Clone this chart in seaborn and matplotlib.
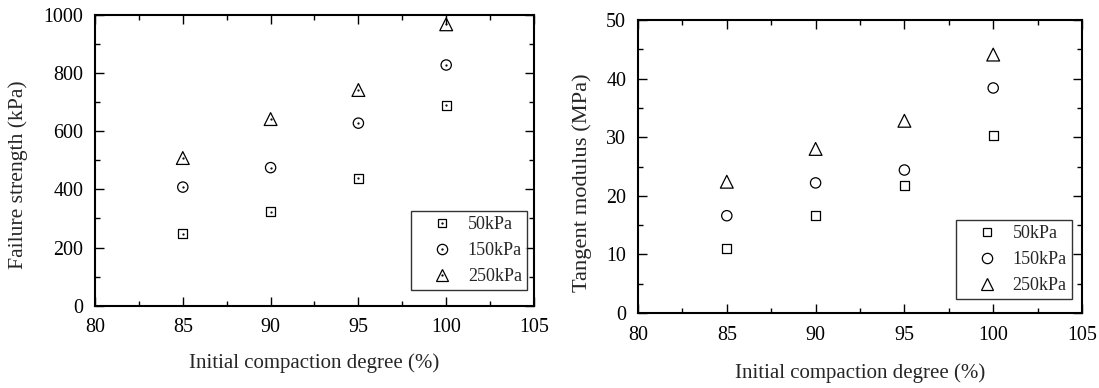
import numpy as np
import pandas as pd
import matplotlib
matplotlib.use("Agg")
import matplotlib.pyplot as plt
import seaborn as sns
from matplotlib.ticker import MultipleLocator
from matplotlib.lines import Line2D
from matplotlib.legend_handler import HandlerTuple

compaction = [85, 90, 95, 100]
pressures = ["50kPa", "150kPa", "250kPa"]
strength_50 = [248, 323, 438, 690]
strength_150 = [408, 475, 628, 828]
strength_250 = [508, 642, 742, 968]
modulus_50 = [11.0, 16.7, 21.7, 30.3]
modulus_150 = [16.6, 22.2, 24.4, 38.4]
modulus_250 = [22.4, 28.0, 32.8, 44.1]

def frame(vals):
    rows = []
    for p, v in zip(pressures, vals):
        for x, y in zip(compaction, v):
            rows.append({"x": x, "y": y, "p": p})
    return pd.DataFrame(rows)

df_s = frame([strength_50, strength_150, strength_250])
df_m = frame([modulus_50, modulus_150, modulus_250])

sns.set_style("ticks")
plt.rcParams['font.family'] = ['Liberation Serif', 'DejaVu Serif']

fig = plt.figure(figsize=(10.99, 3.88), dpi=100)
W, H = 1099, 388
def box(l, t, r, b):
    return [l / W, (H - b) / H, (r - l) / W, (b - t) / H]
ax1 = fig.add_axes(box(95, 15, 534, 305.7))
ax2 = fig.add_axes(box(638, 20, 1082, 313))

markers = {"50kPa": "s", "150kPa": "o", "250kPa": "^"}
sizes = {"50kPa": 40, "150kPa": 55, "250kPa": 85}

def draw(ax, df, ylabel, ymax, ymaj, ymin, dots, ylab_fs,
         ylab_x, ylab_y, xlab_y, leg_anchor):
    sns.scatterplot(data=df, x="x", y="y", style="p", markers=markers,
                    size="p", sizes=sizes, color="black",
                    facecolor="none", edgecolor="black", linewidth=0.9,
                    legend=False, ax=ax, zorder=3)
    if dots:
        ax.scatter(df.x, df.y, marker=".", s=1.5, color="black", zorder=4)
    ax.set_xlim(80, 105)
    ax.set_ylim(0, ymax)
    ax.xaxis.set_major_locator(MultipleLocator(5))
    ax.xaxis.set_minor_locator(MultipleLocator(2.5))
    ax.yaxis.set_major_locator(MultipleLocator(ymaj))
    ax.yaxis.set_minor_locator(MultipleLocator(ymin))
    ax.tick_params(which="both", direction="in", top=True, right=True,
                   labelsize=14.4, width=1.0, colors="black")
    ax.tick_params(axis="x", which="major", pad=9)
    ax.tick_params(axis="y", which="major", pad=8.5)
    ax.tick_params(which="major", length=6.5)
    ax.tick_params(which="minor", length=3.6)
    for sp in ax.spines.values():
        sp.set_linewidth(1.5)
        sp.set_color("black")
    ax.set_xlabel("Initial compaction degree (%)", fontsize=15)
    ax.set_ylabel(ylabel, fontsize=ylab_fs)
    ax.xaxis.set_label_coords(0.5, xlab_y)
    ax.yaxis.set_label_coords(ylab_x, ylab_y)
    handles = []
    for p in pressures:
        ms = np.sqrt(sizes[p])
        h = Line2D([], [], linestyle="none", marker=markers[p], markersize=ms,
                   markerfacecolor="none", markeredgecolor="black",
                   markeredgewidth=0.9)
        if dots:
            d = Line2D([], [], linestyle="none", marker=".", markersize=1.3,
                       color="black")
            handles.append((h, d))
        else:
            handles.append(h)
    leg = ax.legend(handles, pressures,
                    handler_map={tuple: HandlerTuple(ndivide=1, pad=0)},
                    loc="lower right", fontsize=13,
                    frameon=True, fancybox=False, edgecolor="black",
                    borderpad=0.28, handletextpad=0.0, labelspacing=0.5,
                    handlelength=2.85, borderaxespad=0,
                    bbox_to_anchor=leg_anchor)
    leg.get_frame().set_linewidth(1.0)

draw(ax1, df_s, "Failure strength (kPa)", 1000, 200, 100, True, 15.6,
     -0.153, 0.45, -0.163, (0.984, 0.054))
draw(ax2, df_m, "Tangent modulus (MPa)", 50, 10, 5, False, 16.2,
     -0.104, 0.445, -0.171, (0.977, 0.048))

fig.savefig("out.png", dpi=100, facecolor="white")
